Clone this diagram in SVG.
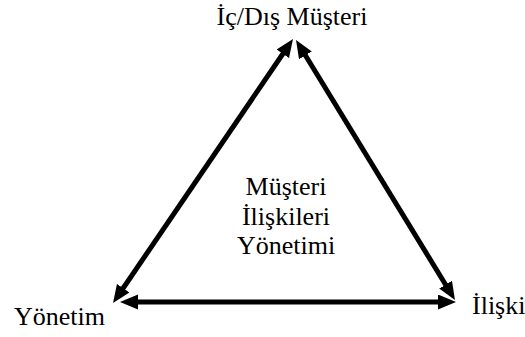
<svg xmlns="http://www.w3.org/2000/svg" width="525" height="337" viewBox="0 0 525 337">
  <style>
    .conn { stroke: #000; stroke-width: 5; fill: none; marker-start: url(#ah); marker-end: url(#ah); }
    .lbl { font-family: "Liberation Serif", "Times New Roman", serif; font-size: 26px; fill: #000; }
  </style>
  <defs>
    <marker id="ah" markerUnits="userSpaceOnUse" markerWidth="20" markerHeight="16" refX="1" refY="7.5" orient="auto-start-reverse">
      <path d="M0,0 L18,7.5 L0,15 z" fill="#000"/>
    </marker>
  </defs>
  <rect width="525" height="337" fill="#fff"/>
  <g id="connectors">
    <line class="conn" x1="283.4" y1="53" x2="122.6" y2="289"/>
    <line class="conn" x1="304.9" y1="54.5" x2="446.1" y2="285.5"/>
    <line class="conn" x1="137" y1="302" x2="439" y2="302"/>
  </g>
  <g id="node-top">
    <text class="lbl" x="292" y="25" text-anchor="middle">İç/Dış Müşteri</text>
  </g>
  <g id="node-left">
    <text class="lbl" x="14" y="325">Yönetim</text>
  </g>
  <g id="node-right">
    <text class="lbl" x="472" y="314">İlişki</text>
  </g>
  <g id="node-center">
    <text class="lbl" x="286" y="195" text-anchor="middle">Müşteri</text>
    <text class="lbl" x="286" y="225" text-anchor="middle">İlişkileri</text>
    <text class="lbl" x="286" y="254" text-anchor="middle">Yönetimi</text>
  </g>
</svg>
